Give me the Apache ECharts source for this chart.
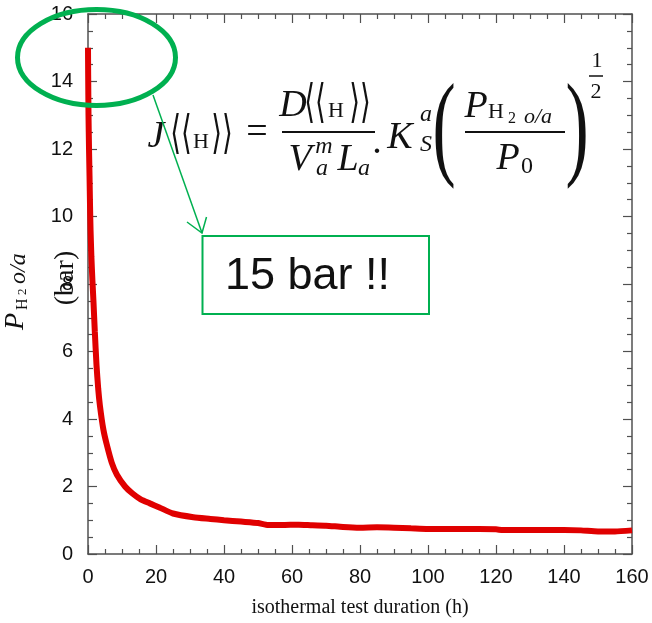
<!DOCTYPE html>
<html>
<head>
<meta charset="utf-8">
<script src="https://cdn.jsdelivr.net/npm/echarts@6/dist/echarts.min.js"></script>
<style>
html,body{margin:0;padding:0;background:#fff;}
#chart{width:652px;height:623px;}
</style>
</head>
<body>
<div id="chart"></div>
<script>
// ---- data ----
const timeH = [0, 0.05, 0.15, 0.3, 0.45, 0.6, 0.75, 1.0, 1.3, 1.6, 2.0, 2.5, 3.0, 3.5, 4.5, 5.5, 7.0, 8.5, 10.9, 13, 15.5, 18.2, 21, 25, 31, 36, 40, 45, 50, 53, 57, 62, 66, 70, 75, 80, 85, 90, 95, 100, 105, 110, 115, 120, 122, 130, 140, 145, 150, 155, 160];
const pressureBar = [15.0, 14.2, 13.0, 12.0, 11.2, 10.3, 9.6, 8.8, 8.1, 7.5, 6.6, 5.6, 4.9, 4.4, 3.7, 3.25, 2.7, 2.35, 2.0, 1.8, 1.62, 1.5, 1.38, 1.2, 1.09, 1.04, 1.0, 0.96, 0.92, 0.86, 0.86, 0.87, 0.85, 0.84, 0.80, 0.78, 0.79, 0.78, 0.76, 0.74, 0.74, 0.74, 0.74, 0.73, 0.71, 0.71, 0.71, 0.70, 0.67, 0.67, 0.70];
const xTicks = {min: 0, max: 160, interval: 20};
const yTicks = {min: 0, max: 16, interval: 2};
const xAxisTitle = 'isothermal test duration (h)';
const calloutText = '15 bar !!';

const seriesData = timeH.map((t, i) => [t, pressureBar[i]]);

const AX = '#505050';
const GREEN = '#00b050';
const SERIF = "'Liberation Serif', 'Times New Roman', serif";
const SANS = "'Liberation Sans', Arial, sans-serif";
const BRACK = "'DejaVu Serif', serif";

function axisCommon(showLabel) {
  return {
    type: 'value',
    splitLine: {show: false},
    axisLine: {show: true, onZero: false, lineStyle: {color: AX, width: 1.5}},
    axisTick: {show: true, inside: true, length: 9, lineStyle: {color: AX, width: 1.2}},
    minorTick: {show: true, splitNumber: 4, length: 5, lineStyle: {color: AX, width: 1.2}},
    minorSplitLine: {show: false},
    axisLabel: {show: showLabel, color: '#111', fontFamily: SANS, fontSize: 20}
  };
}

function txt(text, cx, cy, size, opts) {
  opts = opts || {};
  return {
    type: 'text', x: cx, y: cy, z: opts.z || 100,
    scaleX: opts.sx || 1, scaleY: opts.sy || 1,
    rotation: opts.rot || 0,
    style: {
      text: text,
      fontFamily: opts.family || SERIF,
      fontSize: size,
      fontStyle: opts.italic ? 'italic' : 'normal',
      fill: opts.color || '#111',
      align: opts.align || 'center',
      verticalAlign: opts.va || 'middle',
      textAlign: opts.align || 'center',
      textVerticalAlign: opts.va || 'middle'
    }
  };
}
function hline(x1, x2, y, w, color) {
  return {type: 'line', z: 100, shape: {x1: x1, y1: y, x2: x2, y2: y}, style: {stroke: color || '#111', lineWidth: w || 2}};
}

const formula = [
  txt('J', 156, 137, 38, {italic: true}),
  txt('\u27E8\u27E8', 181, 136, 46, {family: BRACK, sx: 0.6}),
  txt('H', 201, 142, 22),
  txt('\u27E9\u27E9', 222, 136, 46, {family: BRACK, sx: 0.6}),
  txt('=', 257, 133, 38),
  // first fraction
  txt('D', 293, 106, 38, {italic: true}),
  txt('\u27E8\u27E8', 315, 105, 46, {family: BRACK, sx: 0.6}),
  txt('H', 336, 111, 22),
  txt('\u27E9\u27E9', 360, 105, 46, {family: BRACK, sx: 0.6}),
  hline(282, 375, 132, 2),
  txt('V', 300, 160, 38, {italic: true}),
  txt('m', 324, 147, 24, {italic: true}),
  txt('a', 322, 169, 24, {italic: true}),
  txt('L', 348, 160, 38, {italic: true}),
  txt('a', 364, 169, 24, {italic: true}),
  txt('.', 377, 143, 38),
  txt('K', 400, 138, 38, {italic: true}),
  txt('a', 426, 115, 24, {italic: true}),
  txt('S', 426, 145, 24, {italic: true}),
  // big parentheses
  txt('(', 444, 134, 116, {sx: 0.6}),
  txt(')', 577, 134, 116, {sx: 0.6}),
  // inner fraction
  txt('P', 476, 107, 38, {italic: true}),
  txt('H', 496, 112, 22),
  txt('2', 512, 119, 16),
  txt('o/a', 538, 117, 22, {italic: true}),
  hline(465, 565, 132, 2),
  txt('P', 508, 159, 38, {italic: true}),
  txt('0', 527, 167, 24),
  // exponent 1/2
  txt('1', 597, 61, 22),
  hline(589, 603, 76, 1.5),
  txt('2', 596, 92, 22)
];

// rotated y-axis label: P_{H2 o/a} and (bar)
const yLabel = {
  type: 'group', x: 25, y: 330, rotation: Math.PI / 2, z: 100,
  children: [
    txt('P', 0, -9, 28, {italic: true, align: 'left'}),
    txt('H', 20, -2, 16, {align: 'left'}),
    txt('2', 35, -2, 13, {align: 'left'}),
    txt('o/a', 46, -6, 24, {italic: true, align: 'left'})
  ]
};
const yUnit = txt('(bar)', 66, 278, 28, {rot: Math.PI / 2});

const annotation = [
  {type: 'ellipse', z: 110, shape: {cx: 96.5, cy: 57.5, rx: 79, ry: 48}, style: {fill: 'rgba(0,0,0,0)', stroke: GREEN, lineWidth: 5}},
  {type: 'line', z: 110, shape: {x1: 153, y1: 95, x2: 202, y2: 233}, style: {stroke: GREEN, lineWidth: 1.5}},
  {type: 'polyline', z: 110, shape: {points: [[187, 222], [202, 233], [206.5, 217]]}, style: {stroke: GREEN, lineWidth: 1.5, fill: null}},
  {type: 'rect', z: 105, shape: {x: 202.5, y: 236, width: 226.5, height: 78}, style: {fill: '#fff', stroke: GREEN, lineWidth: 2}},
  txt(calloutText, 225, 277, 45, {family: SANS, align: 'left', color: '#111', z: 120})
];

const chart = echarts.init(document.getElementById('chart'), null, {renderer: 'canvas'});
chart.setOption({
  animation: false,
  backgroundColor: '#fff',
  grid: {left: 88, right: 20, top: 14, bottom: 65, containLabel: false},
  xAxis: [
    Object.assign(axisCommon(true), {
      position: 'bottom', min: xTicks.min, max: xTicks.max, interval: xTicks.interval,
      name: xAxisTitle, nameLocation: 'middle', nameGap: 44,
      nameTextStyle: {fontFamily: SERIF, fontSize: 20, color: '#111'},
      axisLabel: {show: true, color: '#111', fontFamily: SANS, fontSize: 20, margin: 13}
    }),
    Object.assign(axisCommon(false), {position: 'top', min: xTicks.min, max: xTicks.max, interval: xTicks.interval})
  ],
  yAxis: [
    Object.assign(axisCommon(true), {
      position: 'left', min: yTicks.min, max: yTicks.max, interval: yTicks.interval,
      axisLabel: {show: true, color: '#111', fontFamily: SANS, fontSize: 20, margin: 15}
    }),
    Object.assign(axisCommon(false), {position: 'right', min: yTicks.min, max: yTicks.max, interval: yTicks.interval})
  ],
  series: [{
    type: 'line',
    xAxisIndex: 0, yAxisIndex: 0,
    data: seriesData,
    showSymbol: false,
    smooth: 0.2,
    lineStyle: {color: '#e00000', width: 6},
    z: 5
  }],
  graphic: {elements: [].concat(formula, [yLabel, yUnit], annotation)}
});
</script>
</body>
</html>
